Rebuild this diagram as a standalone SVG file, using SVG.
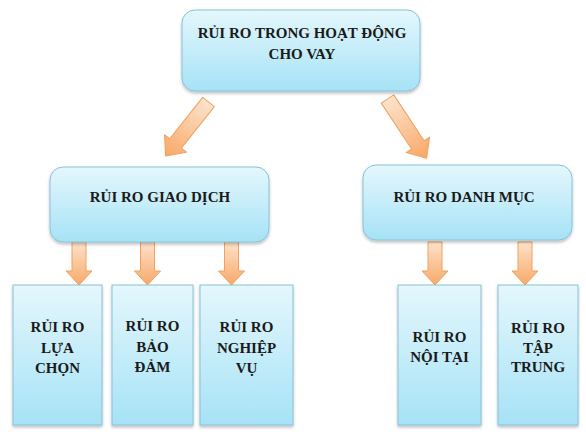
<svg xmlns="http://www.w3.org/2000/svg" width="586" height="438" viewBox="0 0 586 438">
<defs>
<linearGradient id="boxG" x1="0" y1="0" x2="0" y2="1">
<stop offset="0" stop-color="#e4f7fd"/>
<stop offset="1" stop-color="#a6e2f6"/>
</linearGradient>
<linearGradient id="arrG" x1="0" y1="0" x2="0" y2="1">
<stop offset="0" stop-color="#fde3cc"/>
<stop offset="1" stop-color="#f8a869"/>
</linearGradient>
<filter id="sh" x="-10%" y="-10%" width="120%" height="130%">
<feDropShadow dx="0" dy="2" stdDeviation="1.5" flood-color="#000" flood-opacity="0.25"/>
</filter>
</defs>
<style>
.box{fill:url(#boxG);stroke:#88c2d6;stroke-width:1;filter:url(#sh)}
.arr{fill:url(#arrG);stroke:#f2a15e;stroke-width:1;stroke-linejoin:round}
.t{font-family:'Liberation Serif','Times New Roman',serif;font-weight:bold;font-size:15px;fill:#1a1a1a;text-anchor:middle}
</style>
<rect width="586" height="438" fill="#ffffff"/>
<g id="connectors">
<polygon class="arr" transform="translate(208.5,102) rotate(38.5)" points="-7.5,0 7.5,0 7.5,53 14,53 0,69 -14,53 -7.5,53"/>
<polygon class="arr" transform="translate(387.5,99) rotate(-33.5)" points="-7.5,0 7.5,0 7.5,55 14,55 0,71 -14,55 -7.5,55"/>
<polygon class="arr" transform="translate(79,242)" points="-7,0 7,0 7,29 13,29 0,43 -13,29 -7,29"/>
<polygon class="arr" transform="translate(147.5,242)" points="-7,0 7,0 7,29 13,29 0,43 -13,29 -7,29"/>
<polygon class="arr" transform="translate(231.5,242)" points="-7,0 7,0 7,29 13,29 0,43 -13,29 -7,29"/>
<polygon class="arr" transform="translate(435,242)" points="-7,0 7,0 7,29 13,29 0,43 -13,29 -7,29"/>
<polygon class="arr" transform="translate(525,242)" points="-7,0 7,0 7,29 13,29 0,43 -13,29 -7,29"/>
</g>
<g id="root">
<rect class="box" x="182" y="10" width="238" height="81" rx="13"/>
<text class="t" x="302" y="38">RỦI RO TRONG HOẠT ĐỘNG</text>
<text class="t" x="302" y="59">CHO VAY</text>
</g>
<g id="giaodich">
<rect class="box" x="50" y="167" width="219" height="75" rx="13"/>
<text class="t" x="160" y="202">RỦI RO GIAO DỊCH</text>
</g>
<g id="danhmuc">
<rect class="box" x="363" y="165" width="209" height="75" rx="13"/>
<text class="t" x="464" y="202">RỦI RO DANH MỤC</text>
</g>
<g id="luachon">
<rect class="box" x="13" y="285" width="89" height="140"/>
<text class="t" x="57.5" y="332">RỦI RO</text>
<text class="t" x="57.5" y="353">LỰA</text>
<text class="t" x="57.5" y="373">CHỌN</text>
</g>
<g id="baodam">
<rect class="box" x="112" y="285" width="81" height="140"/>
<text class="t" x="152.5" y="331">RỦI RO</text>
<text class="t" x="152.5" y="352">BẢO</text>
<text class="t" x="152.5" y="372">ĐẢM</text>
</g>
<g id="nghiepvu">
<rect class="box" x="200" y="285" width="93" height="140"/>
<text class="t" x="246.5" y="332">RỦI RO</text>
<text class="t" x="246.5" y="353">NGHIỆP</text>
<text class="t" x="246.5" y="373">VỤ</text>
</g>
<g id="noitai">
<rect class="box" x="398" y="285" width="83" height="140"/>
<text class="t" x="439.5" y="342">RỦI RO</text>
<text class="t" x="439.5" y="362">NỘI TẠI</text>
</g>
<g id="taptrung">
<rect class="box" x="498" y="285" width="80" height="140"/>
<text class="t" x="538" y="333">RỦI RO</text>
<text class="t" x="538" y="353">TẬP</text>
<text class="t" x="538" y="372">TRUNG</text>
</g>
</svg>
